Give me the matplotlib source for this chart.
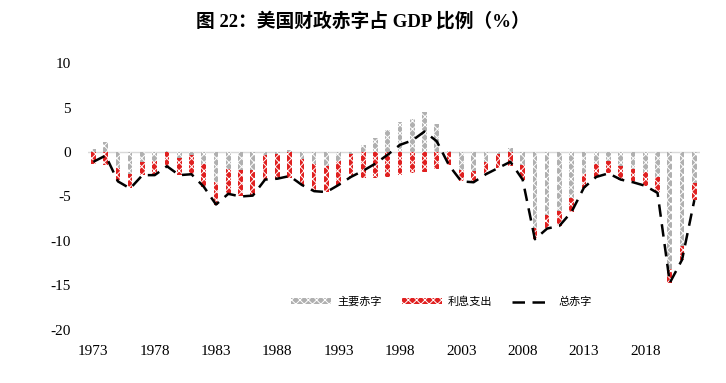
import matplotlib
matplotlib.use("Agg")
import matplotlib.pyplot as plt
from matplotlib.patches import Patch
from matplotlib.lines import Line2D

years = list(range(1973, 2023))
primary = [0.3, 1.1, -1.8, -2.5, -1.1, -1.0, 0.1, -0.7, -0.3, -1.3,
           -3.4, -1.9, -2.0, -2.0, -0.3, -0.2, 0.2, -0.8, -1.4, -1.6,
           -1.0, -0.2, 0.8, 1.6, 2.5, 3.4, 3.7, 4.5, 3.1, 0.1,
           -2.0, -2.1, -1.1, -0.2, 0.5, -1.5, -8.5, -7.1, -6.6, -5.2,
           -2.5, -1.3, -1.0, -1.6, -1.9, -2.2, -2.8, -13.1, -10.6, -3.5]
interest = [-1.4, -1.5, -1.5, -1.6, -1.5, -1.6, -1.7, -1.9, -2.2, -2.6,
            -2.5, -2.8, -3.0, -2.9, -2.8, -2.8, -2.9, -2.9, -3.0, -2.9,
            -2.7, -2.6, -2.9, -2.9, -2.8, -2.6, -2.4, -2.2, -1.9, -1.5,
            -1.3, -1.3, -1.4, -1.6, -1.6, -1.6, -1.3, -1.5, -1.7, -1.5,
            -1.5, -1.5, -1.4, -1.5, -1.5, -1.6, -1.8, -1.6, -1.5, -1.9]
total = [-1.1, -0.4, -3.3, -4.1, -2.6, -2.6, -1.6, -2.6, -2.5, -3.9,
         -5.9, -4.7, -5.0, -4.9, -3.1, -3.0, -2.7, -3.7, -4.4, -4.5,
         -3.7, -2.8, -2.1, -1.3, -0.3, 0.8, 1.3, 2.3, 1.2, -1.5,
         -3.3, -3.4, -2.5, -1.8, -1.1, -3.1, -9.8, -8.6, -8.3, -6.7,
         -4.0, -2.8, -2.4, -3.1, -3.4, -3.8, -4.6, -14.7, -12.1, -5.4]
yticks = [10, 5, 0, -5, -10, -15, -20]
labels = ["主要赤字", "利息支出", "总赤字"]
title = "图 22：美国财政赤字占 GDP 比例（%）"

plt.rcParams['hatch.linewidth'] = 0.7
fig = plt.figure(figsize=(7.26, 3.83), dpi=100)
ax = fig.add_axes([0.121, 0.1384, 0.843, 0.6971])

x = list(range(len(years)))
gray_face, gray_hatch = '#b0b0b0', 'white'
red_face, red_hatch = '#e02020', 'white'

# Excel-like stacking: positives upward, negatives downward in series order
p_bottom = [0.0] * len(x)
i_bottom = [p if p < 0 else 0.0 for p in primary]
ax.bar(x, primary, width=0.38, bottom=p_bottom, color=gray_face,
       edgecolor=gray_hatch, linewidth=0, hatch='xxxx', zorder=2)
ax.bar(x, interest, width=0.38, bottom=i_bottom, color=red_face,
       edgecolor=red_hatch, linewidth=0, hatch='xxxx', zorder=2)
ax.plot(x, total, color='black', lw=1.8, linestyle=(0, (5, 3)), zorder=3)

ax.axhline(0, color='#d9d9d9', lw=1, zorder=1)
ax.set_xlim(-0.45, len(x) - 0.55)
ax.set_ylim(-20, 10)
ax.set_yticks(yticks)
ax.set_yticklabels([str(v) for v in yticks], fontfamily='Liberation Serif', fontsize=11)
ax.set_xticks(x[::5])
ax.set_xticklabels([str(y) for y in years[::5]], fontfamily='Liberation Serif', fontsize=11)
ax.tick_params(axis='y', length=0, pad=12)
ax.tick_params(axis='x', length=0, pad=11)
for s in ax.spines.values():
    s.set_visible(False)

handles = [Patch(facecolor=gray_face, edgecolor=gray_hatch, linewidth=0, hatch='xxxx'),
           Patch(facecolor=red_face, edgecolor=red_hatch, linewidth=0, hatch='xxxx'),
           Line2D([0], [0], color='black', lw=1.8, linestyle=(0, (5, 3)))]
ax.legend(handles, labels, loc='center', bbox_to_anchor=(0.578, 0.105), ncol=3,
          frameon=False, prop={'family': 'Noto Sans CJK SC', 'size': 8},
          handlelength=3.6, handleheight=0.45, columnspacing=1.8, handletextpad=0.55)

fig.text(0.5, 0.945, title, ha='center', va='center', fontsize=13.5, fontweight='bold',
         family=['Liberation Serif', 'Noto Sans CJK SC'])

fig.savefig('out.png', dpi=100)
